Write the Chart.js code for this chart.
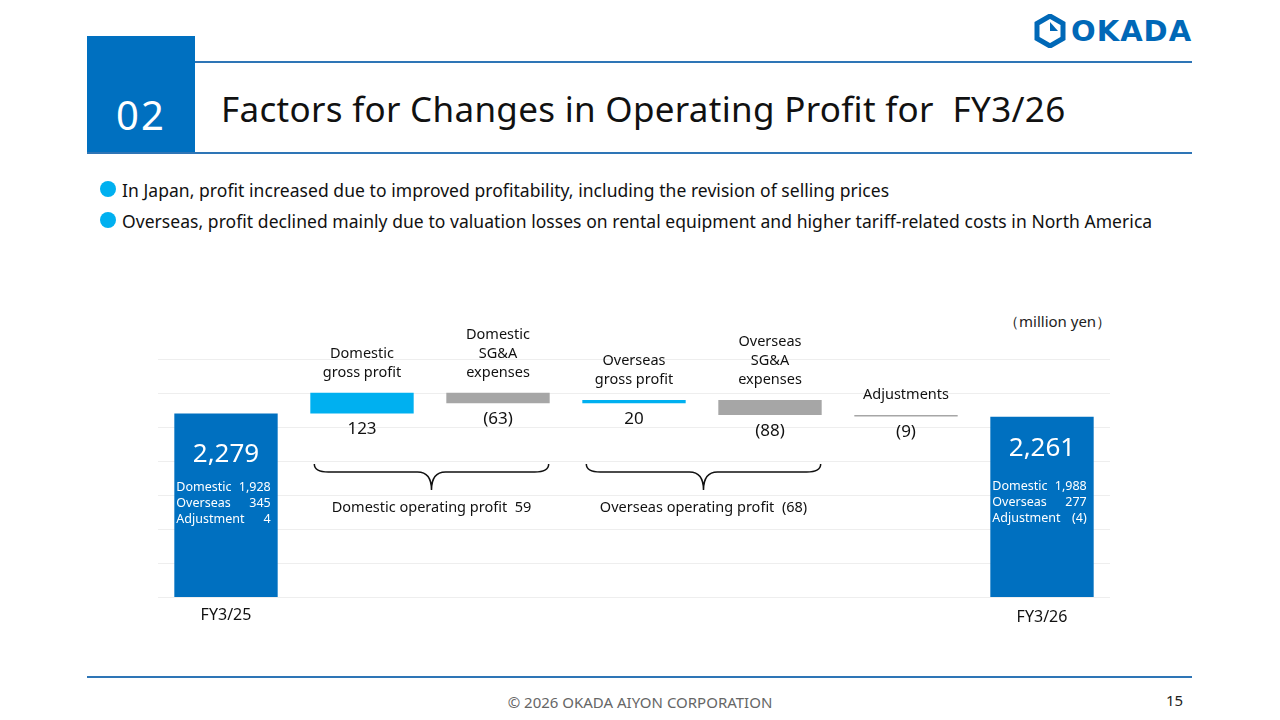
<!DOCTYPE html>
<html>
<head>
<meta charset="utf-8">
<script src="https://cdn.jsdelivr.net/npm/chart.js@4"></script>
<style>
  body { margin: 0; width: 1280px; height: 720px; background: #fff; font-family: "Noto Sans", "Open Sans", sans-serif; position: relative; overflow: hidden; }
  .abs { position: absolute; }
  #numbox { left: 87px; top: 36px; width: 108px; height: 117px; background: #0070c0; color: #fff; font-size: 40px; text-align: center; line-height: 158px; letter-spacing: 2px; }
  #title { left: 221px; top: 85px; font-size: 35px; color: #111; white-space: pre; letter-spacing: 0.3px; }
  .line { background: #2e75b6; height: 1.5px; }
  .bullet { left: 100px; width: 16px; height: 16px; border-radius: 50%; background: #00b0f0; }
  .btext { left: 122px; font-size: 17.5px; color: #111; letter-spacing: 0.05px; }
  #logo { left: 1034px; top: 14px; display: flex; align-items: center; color: #0068b7; font-weight: 900; font-size: 29px; letter-spacing: 1px; font-family: "DejaVu Sans", sans-serif; }
  #chartwrap { left: 158px; top: 300px; width: 952px; height: 340px; }
</style>
</head>
<body>
<div id="logo" class="abs">
  <svg width="32" height="34" viewBox="0 0 32 34" style="margin-right:5px">
    <polygon points="16,2 29,9.5 29,24.5 16,32 3,24.5 3,9.5" fill="none" stroke="#0068b7" stroke-width="5"/>
    <polygon points="16,8 24,17 16,17" fill="#0068b7"/>
  </svg>OKADA
</div>
<div id="numbox" class="abs">02</div>
<div class="abs line" style="left:195px; top:61px; width:997px;"></div>
<div class="abs line" style="left:87px; top:152px; width:1105px;"></div>
<div id="title" class="abs">Factors for Changes in Operating Profit for  FY3/26</div>
<div class="abs bullet" style="top:181px;"></div>
<div class="abs btext" style="top:178px;">In Japan, profit increased due to improved profitability, including the revision of selling prices</div>
<div class="abs bullet" style="top:212px;"></div>
<div class="abs btext" style="top:209px;">Overseas, profit declined mainly due to valuation losses on rental equipment and higher tariff-related costs in North America</div>
<div class="abs" style="left:1004px; top:311px; font-size:15px; color:#222;">（million yen）</div>
<div id="chartwrap" class="abs"><canvas id="c"></canvas></div>
<div class="abs line" style="left:87px; top:676px; width:1105px;"></div>
<div class="abs" style="left:0; width:1280px; top:692px; text-align:center; font-size:15px; color:#666;">© 2026 OKADA AIYON CORPORATION</div>
<div class="abs" style="left:1166px; top:690px; font-size:15px; color:#222;">15</div>

<script>
// data
const categories = [['FY3/25'], ['Domestic', 'gross profit'], ['Domestic', 'SG&A', 'expenses'], ['Overseas', 'gross profit'], ['Overseas', 'SG&A', 'expenses'], ['Adjustments'], ['FY3/26']];
const startValue = 2279;
const endValue = 2261;
const changes = [123, -63, 20, -88, -9];
const changeLabels = ['123', '(63)', '20', '(88)', '(9)'];
const startBreakdown = [['Domestic', '1,928'], ['Overseas', '345'], ['Adjustment', '4']];
const endBreakdown = [['Domestic', '1,988'], ['Overseas', '277'], ['Adjustment', '(4)']];
const groupLabels = ['Domestic operating profit  59', 'Overseas operating profit  (68)'];
const axisMin = 1200, axisMax = 2600, axisStep = 200;

const BLUE = '#0070c0', LIGHT = '#00b0f0', GRAY = '#a6a6a6';

// floating bars
const bars = [[axisMin, startValue]];
let run = startValue;
changes.forEach(v => { bars.push([run, run + v]); run += v; });
bars.push([axisMin, endValue]);
const colors = [BLUE, LIGHT, GRAY, LIGHT, GRAY, GRAY, BLUE];

const FONT = '"Noto Sans", "Open Sans", sans-serif';

const labelsPlugin = {
  id: 'labels',
  afterDatasetsDraw(chart) {
    const ctx = chart.ctx;
    const meta = chart.getDatasetMeta(0);
    ctx.save();
    meta.data.forEach((bar, i) => {
      const top = Math.min(bar.y, bar.base);
      const bottom = Math.max(bar.y, bar.base);
      const left = bar.x - bar.width / 2, right = bar.x + bar.width / 2;
      if (i === 0 || i === 6) {
        const total = i === 0 ? startValue : endValue;
        const bd = i === 0 ? startBreakdown : endBreakdown;
        ctx.fillStyle = '#fff';
        ctx.font = '26px ' + FONT;
        ctx.textAlign = 'center'; ctx.textBaseline = 'middle';
        ctx.fillText(total.toLocaleString('en-US'), bar.x, top + (i === 0 ? 41 : 32));
        ctx.font = '12.5px ' + FONT;
        bd.forEach((row, r) => {
          const y = top + (i === 0 ? 74 : 70) + r * 16;
          ctx.textAlign = 'left'; ctx.fillText(row[0], left + 2, y);
          ctx.textAlign = 'right'; ctx.fillText(row[1], right - 7, y);
        });
        ctx.fillStyle = '#111';
        ctx.font = '16px ' + FONT;
        ctx.textAlign = 'center';
        ctx.fillText(categories[i][0], bar.x, bottom + (i === 0 ? 18 : 20));
      } else {
        const lines = categories[i];
        ctx.fillStyle = '#111';
        ctx.font = '14.5px ' + FONT;
        ctx.textAlign = 'center'; ctx.textBaseline = 'middle';
        lines.forEach((t, r) => {
          ctx.fillText(t, bar.x, top - 20 - (lines.length - 1 - r) * 19);
        });
        ctx.font = '17px ' + FONT;
        ctx.fillText(changeLabels[i - 1], bar.x, bottom + 16);
      }
    });
    // braces (canvas starts 300px below page top)
    const off = -300;
    [[1, 2], [3, 4]].forEach((pair, k) => {
      const a = meta.data[pair[0]], b = meta.data[pair[1]];
      const x0 = a.x - a.width / 2 + 4, x1 = b.x + b.width / 2 - 1;
      const xm = (x0 + x1) / 2;
      const y0 = 464 + off, y1 = 490 + off, yb = 472 + off;
      ctx.strokeStyle = '#111'; ctx.lineWidth = 1.5;
      ctx.beginPath();
      ctx.moveTo(x0, y0);
      ctx.quadraticCurveTo(x0, yb, x0 + 14, yb);
      ctx.lineTo(xm - 14, yb);
      ctx.quadraticCurveTo(xm, yb, xm, y1);
      ctx.quadraticCurveTo(xm, yb, xm + 14, yb);
      ctx.lineTo(x1 - 14, yb);
      ctx.quadraticCurveTo(x1, yb, x1, y0);
      ctx.stroke();
      ctx.fillStyle = '#111';
      ctx.font = '14.5px ' + FONT;
      ctx.textAlign = 'center'; ctx.textBaseline = 'middle';
      ctx.fillText(groupLabels[k], xm, 508 + off);
    });
    ctx.restore();
  }
};

new Chart(document.getElementById('c'), {
  type: 'bar',
  data: {
    labels: categories.map(c => c.join(' ')),
    datasets: [{
      data: bars,
      backgroundColor: colors,
      borderWidth: 0,
      borderSkipped: false,
      barPercentage: 0.76,
      categoryPercentage: 1
    }]
  },
  options: {
    responsive: true,
    maintainAspectRatio: false,
    animation: false,
    layout: { padding: { top: 59, bottom: 43, left: 0, right: 0 } },
    plugins: { legend: { display: false }, tooltip: { enabled: false } },
    scales: {
      x: { display: false },
      y: {
        min: axisMin, max: axisMax,
        ticks: { display: false, stepSize: axisStep },
        border: { display: false },
        grid: { color: '#eeeeee', drawTicks: false, tickLength: 0 }
      }
    }
  },
  plugins: [labelsPlugin]
});
</script>
</body>
</html>
